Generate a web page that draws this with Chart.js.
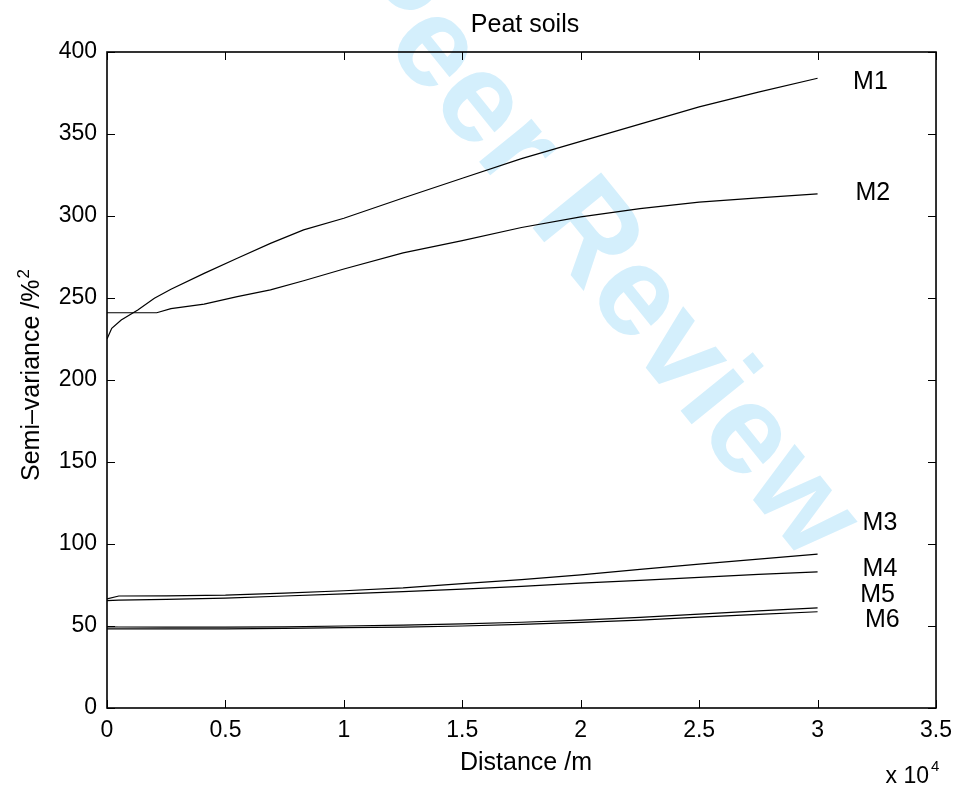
<!DOCTYPE html>
<html><head><meta charset="utf-8">
<script src="https://cdn.jsdelivr.net/npm/chart.js@4.4.0/dist/chart.umd.min.js"></script>
<style>html,body{margin:0;padding:0;background:#fff;}canvas{display:block;}</style>
</head><body>
<canvas id="c" width="961" height="792"></canvas>
<script>
const titleText = 'Peat soils';
const xTitle = 'Distance /m';
const yTitle = 'Semi\u2013variance /%';
const yTitleSup = '2';
const xMultiplier = 'x 10';
const xMultiplierSup = '4';
const watermark = 'For Peer Review';
const xTickLabels = ['0','0.5','1','1.5','2','2.5','3','3.5'];
const yTickLabels = ['0','50','100','150','200','250','300','350','400'];
const seriesNames = ['M1','M2','M3','M4','M5','M6'];

const m1Dist = [0,200,600,1300,2000,2700,4100,5500,6900,8300,10000,12500,15000,17500,20000,22500,25000,27500,30000];
const m1Val  = [225,231.5,236.6,242.7,249.8,255.3,265,274.2,283.3,291.5,298.6,311,323,335,345.5,356,366.5,375.5,384];

const m2Dist = [0,2100,2700,4100,5500,6900,8300,10000,12500,15000,17500,20000,22500,25000,27500,30000];
const m2Val  = [241,241,243.5,246.3,250.8,255,260.5,267.7,277.5,285,293,299.5,304.5,308.5,311,313.5];

const lowDist = [0,500,2500,5000,7500,10000,12500,15000,17500,20000,22500,25000,27500,30000];
const m3Val  = [66.5,68.3,68.4,68.8,70,71.5,73.2,75.8,78.3,81.2,84.5,87.7,90.8,93.8];
const m4Val  = [65.5,65.8,66.2,67,68.3,69.6,70.9,72.5,74.2,76.2,77.8,79.6,81.5,83];
const m5Val  = [49.5,49.4,49.3,49.3,49.5,50,50.5,51.3,52.3,53.6,55.2,57.3,59.2,61];
const m6Val  = [48.3,48.3,48.3,48.3,48.5,49,49.3,50,51,52.2,53.6,55.4,57.1,58.7];

// label anchors in data units (distance, semi-variance)
const labelX = [31500,31600,31900,31900,31800,32000];
const labelY = [383,315,114,86,70,55];

const pts = (d,v)=>d.map((x,i)=>({x:x,y:v[i]}));
const seriesData = [pts(m1Dist,m1Val),pts(m2Dist,m2Val),pts(lowDist,m3Val),pts(lowDist,m4Val),pts(lowDist,m5Val),pts(lowDist,m6Val)];

const FONT = '"Liberation Sans", Arial, sans-serif';

const decor = {
  id:'decor',
  beforeDraw(chart){
    const ctx = chart.ctx;
    ctx.save();
    ctx.fillStyle = '#fff';
    ctx.fillRect(0,0,chart.width,chart.height);
    ctx.translate(178,-210);
    ctx.rotate(51*Math.PI/180);
    ctx.font = 'bold 128px ' + FONT;
    ctx.fillStyle = 'rgb(212,239,252)';
    ctx.textAlign = 'left';
    ctx.textBaseline = 'alphabetic';
    ctx.fillText(watermark,0,0);
    ctx.restore();
  },
  afterDraw(chart){
    const {ctx, chartArea:a, scales} = chart;
    const x = scales.x, y = scales.y;
    ctx.save();
    ctx.strokeStyle = '#000';
    ctx.lineWidth = 1.6;
    ctx.strokeRect(a.left, a.top, a.right-a.left, a.bottom-a.top);
    ctx.lineWidth = 1;
    const tl = 8;
    ctx.beginPath();
    x.ticks.forEach(t=>{
      const px = Math.round(x.getPixelForValue(t.value))+0.5;
      ctx.moveTo(px,a.bottom); ctx.lineTo(px,a.bottom-tl);
      ctx.moveTo(px,a.top); ctx.lineTo(px,a.top+tl);
    });
    y.ticks.forEach(t=>{
      const py = Math.round(y.getPixelForValue(t.value))+0.5;
      ctx.moveTo(a.left,py); ctx.lineTo(a.left+tl,py);
      ctx.moveTo(a.right,py); ctx.lineTo(a.right-tl,py);
    });
    ctx.stroke();

    ctx.fillStyle = '#000';
    ctx.textBaseline = 'alphabetic';
    ctx.font = '25px ' + FONT;
    ctx.textAlign = 'center';
    ctx.fillText(titleText, 525, 32);
    ctx.fillText(xTitle, 526, 770);
    ctx.textAlign = 'left';
    seriesNames.forEach((n,i)=>{
      ctx.fillText(n, x.getPixelForValue(labelX[i]), y.getPixelForValue(labelY[i]) + 9);
    });
    ctx.font = '23px ' + FONT;
    ctx.textAlign = 'right';
    ctx.fillText(xMultiplier, 929, 783);
    ctx.font = '15px ' + FONT;
    ctx.textAlign = 'left';
    ctx.fillText(xMultiplierSup, 931, 771);
    ctx.save();
    ctx.translate(39, 481);
    ctx.rotate(-Math.PI/2);
    ctx.font = '25px ' + FONT;
    ctx.textAlign = 'left';
    ctx.fillText(yTitle, 0, 0);
    const w = ctx.measureText(yTitle).width;
    ctx.font = '17px ' + FONT;
    ctx.fillText(yTitleSup, w + 1, -10);
    ctx.restore();
    ctx.restore();
  }
};

new Chart(document.getElementById('c'), {
  type: 'scatter',
  data: {
    datasets: seriesData.map((d,i)=>({
      label: seriesNames[i],
      data: d,
      showLine: true,
      borderColor: '#000',
      backgroundColor: '#000',
      borderWidth: 1.2,
      pointRadius: 0,
      fill: false,
      tension: 0
    }))
  },
  options: {
    responsive: false,
    animation: false,
    devicePixelRatio: 1,
    layout: { padding: { top: 52, right: 23, left: 0, bottom: 0 } },
    plugins: { legend: { display: false }, tooltip: { enabled: false }, title: { display: false } },
    scales: {
      x: {
        type: 'linear', min: 0, max: 35000,
        grid: { display: false, drawTicks: false },
        border: { display: false },
        ticks: {
          stepSize: 5000, autoSkip: false, maxRotation: 0, padding: 9,
          color: '#000', font: { family: FONT, size: 23 },
          callback: (v) => xTickLabels[Math.round(v/5000)]
        },
        afterFit: (s) => { s.height = 84; }
      },
      y: {
        type: 'linear', min: 0, max: 400,
        grid: { display: false, drawTicks: false },
        border: { display: false },
        ticks: {
          stepSize: 50, autoSkip: false, padding: 10,
          color: '#000', font: { family: FONT, size: 23 },
          callback: (v) => yTickLabels[Math.round(v/50)]
        },
        afterFit: (s) => { s.width = 107; }
      }
    }
  },
  plugins: [decor]
});
</script>
</body></html>
